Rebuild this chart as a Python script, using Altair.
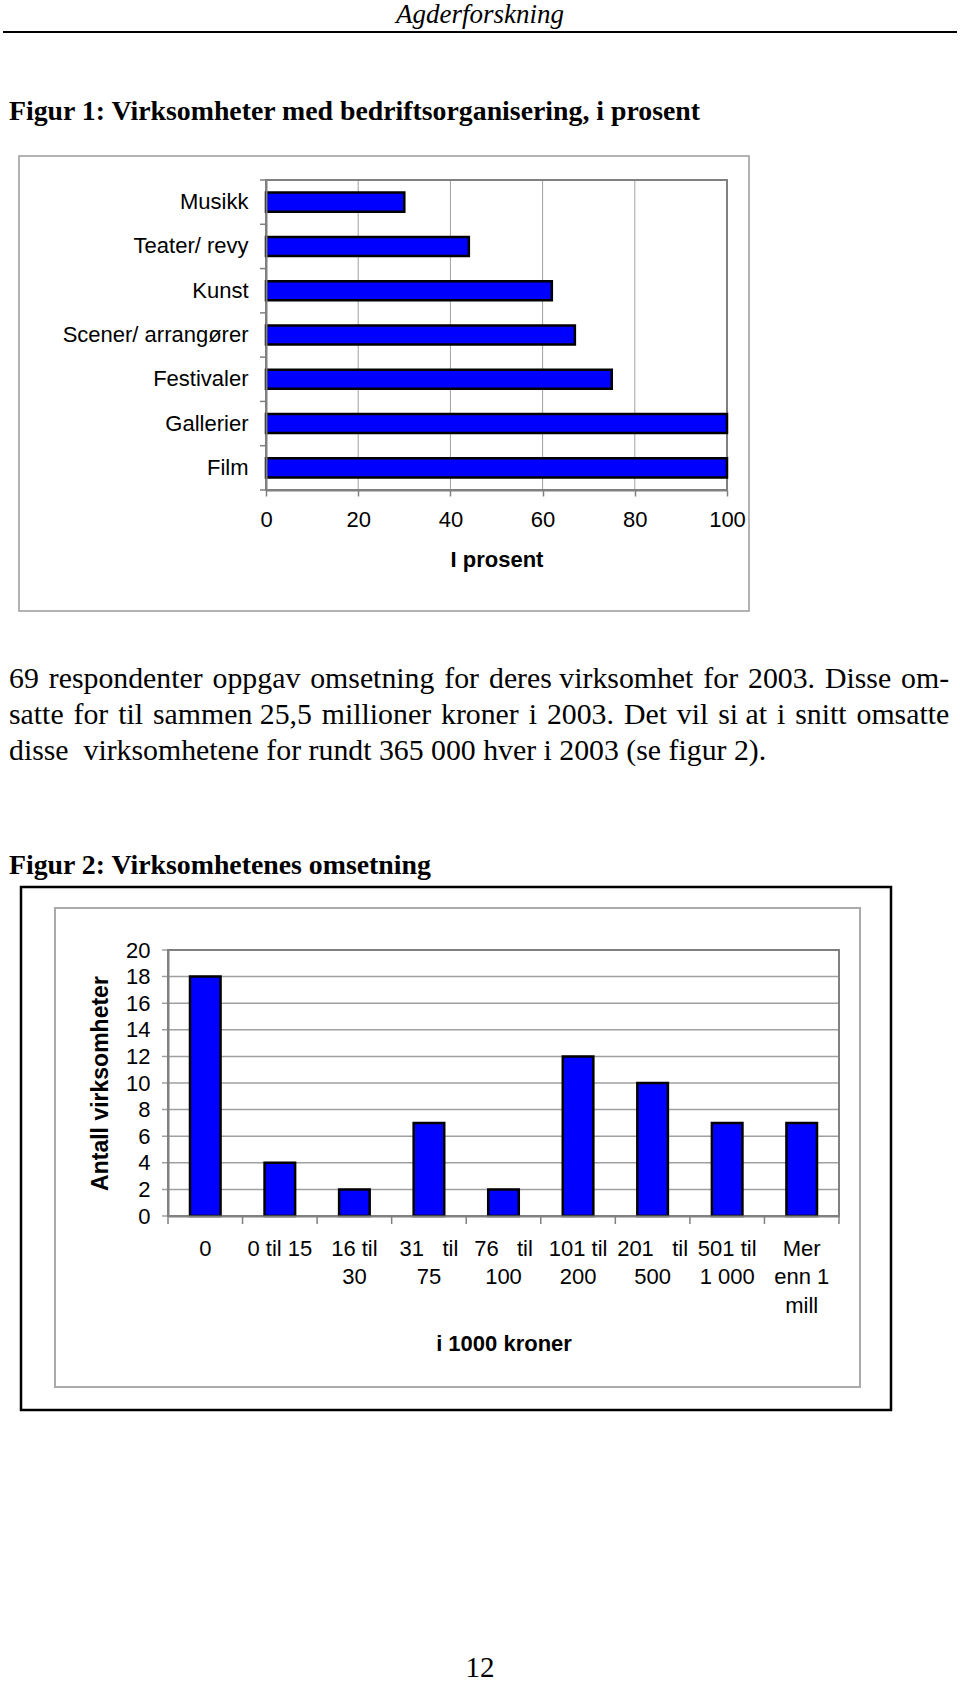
import altair as alt
import pandas as pd

W, H = 960, 1685

# ---------------- data ----------------
header_text = ["Agderforskning"]
page_number = ["12"]
fig1_title = ["Figur 1: Virksomheter med bedriftsorganisering, i prosent"]
fig2_title = ["Figur 2: Virksomhetenes omsetning"]
paragraph_lines = [
    "69 respondenter oppgav omsetning for deres virksomhet for 2003. Disse om-",
    "satte for til sammen 25,5 millioner kroner i 2003. Det vil si at i snitt omsatte",
    "disse\u00a0 virksomhetene for rundt 365 000 hver i 2003 (se figur 2).",
]
# lines 1-2 are justified in the original: number of hair spaces added to stretch them
paragraph_stretch = [9, 13, 0]

fig1_categories = ["Musikk", "Teater/ revy", "Kunst", "Scener/ arrangører",
                   "Festivaler", "Gallerier", "Film"]
fig1_values = [30, 44, 62, 67, 75, 100, 100]
fig1_ticks = [0, 20, 40, 60, 80, 100]
fig1_xtitle = "I prosent"

NB = "\u00a0"
fig2_categories = ["0", "0 til 15", "16 til\n30", f"31{NB}{NB} til\n75",
                   f"76{NB}{NB} til\n100", "101 til\n200", f"201{NB}{NB} til\n500",
                   "501 til\n1 000", "Mer\nenn 1\nmill"]
fig2_values = [18, 4, 2, 7, 2, 12, 10, 7, 7]
fig2_ticks = [0, 2, 4, 6, 8, 10, 12, 14, 16, 18, 20]
fig2_xtitle = "i 1000 kroner"
fig2_ytitle = "Antall virksomheter"

# ---------------- style / geometry ----------------
SANS = "Liberation Sans"
SERIF = "Liberation Serif"
GRAY = "#808080"
GRID = "#a0a0a0"
BLUE = "#0000FF"

P1 = dict(x0=266, x1=727, y0=180, y1=490)
P2 = dict(x0=168, x1=839, y0=950, y1=1216)

one = pd.DataFrame({"k": [0]})


def stretch(line, k):
    """Spread k hair spaces evenly over the word gaps (simulated justification)."""
    if k <= 0:
        return line
    words = line.split(" ")
    gaps = len(words) - 1
    chosen = {round(i * (gaps - 1) / max(k - 1, 1)) for i in range(k)}
    out = words[0]
    for g in range(gaps):
        out += " " + ("\u200a" if g in chosen else "") + words[g + 1]
    return out


def box(x0, x1, y0, y1, stroke, sw):
    return alt.Chart(one).mark_rect(fill="transparent", stroke=stroke, strokeWidth=sw).encode(
        x=alt.value(x0), x2=alt.value(x1), y=alt.value(y0), y2=alt.value(y1))


def text_layer(lines, x, y, font, size, weight="normal", style="normal", align="left"):
    return alt.Chart(pd.DataFrame({"t": lines})).mark_text(
        font=font, fontSize=size, fontWeight=weight, fontStyle=style,
        align=align, baseline="middle", color="black").encode(
        text="t:N", x=alt.value(x), y=alt.value(y))


# ---------------- page text ----------------
header = text_layer(header_text, 480, 15, SERIF, 27, style="italic", align="center")
header_rule = alt.Chart(one).mark_rule(color="black", strokeWidth=2).encode(
    x=alt.value(3), x2=alt.value(957), y=alt.value(32))
title1 = text_layer(fig1_title, 9, 112, SERIF, 27.8, weight="bold")
title2 = text_layer(fig2_title, 9, 866, SERIF, 27.8, weight="bold")
pnum = text_layer(page_number, 480, 1668, SERIF, 29, align="center")

para_df = pd.DataFrame({
    "t": [stretch(l, k) for l, k in zip(paragraph_lines, paragraph_stretch)],
    "i": list(range(len(paragraph_lines))),
})
paragraph = alt.Chart(para_df).mark_text(
    font=SERIF, fontSize=29.8, align="left", baseline="middle", color="black").encode(
    text="t:N", x=alt.value(9),
    y=alt.Y("i:Q", scale=alt.Scale(domain=[0, 2], range=[679, 751], nice=False, zero=False), axis=None))

# ---------------- figure 1 ----------------
x1s = alt.Scale(domain=[0, 100], range=[P1["x0"], P1["x1"]], nice=False, zero=True)
y1s = alt.Scale(domain=fig1_categories, range=[P1["y0"], P1["y1"]],
                paddingInner=0.57, paddingOuter=0.285)

box1 = box(19, 749, 156, 611, "#9a9a9a", 1.5)
grid1 = alt.Chart(pd.DataFrame({"v": fig1_ticks[1:-1]})).mark_rule(color=GRID, strokeWidth=1).encode(
    x=alt.X("v:Q", scale=x1s, axis=None), y=alt.value(P1["y0"]), y2=alt.value(P1["y1"]))
frame1 = box(P1["x0"], P1["x1"], P1["y0"], P1["y1"], GRAY, 2)

df1 = pd.DataFrame({"cat": fig1_categories, "val": fig1_values})
bars1 = alt.Chart(df1).mark_bar(color=BLUE, stroke="black", strokeWidth=2.5).encode(
    x=alt.X("val:Q", scale=x1s, axis=alt.Axis(
        orient="bottom", offset=P1["y1"] - H, values=fig1_ticks, grid=False,
        labelFont=SANS, labelFontSize=22, labelColor="black", labelPadding=13,
        labelFlush=False, labelOverlap=False,
        tickSize=6, tickColor=GRAY, tickWidth=1.5, domainColor=GRAY, domainWidth=2,
        title=fig1_xtitle, titleFont=SANS, titleFontSize=22, titleFontWeight="bold",
        titleColor="black", titlePadding=19, zindex=1)),
    y=alt.Y("cat:N", scale=y1s, sort=None, axis=alt.Axis(
        orient="left", offset=-P1["x0"], ticks=False, grid=False,
        labelFont=SANS, labelFontSize=22, labelColor="black", labelPadding=18,
        labelLimit=400, domainColor=GRAY, domainWidth=2, title=None, zindex=1)),
)
bticks1 = alt.Chart(pd.DataFrame({"b": list(range(len(fig1_categories) + 1))})).mark_rule(
    color=GRAY, strokeWidth=1.5).encode(
    y=alt.Y("b:Q", scale=alt.Scale(domain=[0, len(fig1_categories)], range=[P1["y0"], P1["y1"]],
                                   nice=False, zero=False), axis=None),
    x=alt.value(P1["x0"] - 6), x2=alt.value(P1["x0"]))

# ---------------- figure 2 ----------------
x2s = alt.Scale(domain=fig2_categories, range=[P2["x0"], P2["x1"]],
                paddingInner=0.59, paddingOuter=0.295)
y2s = alt.Scale(domain=[0, 20], range=[P2["y1"], P2["y0"]], nice=False, zero=True)

box2o = box(21, 891, 887, 1410, "black", 2.5)
box2i = box(55, 860, 908, 1387, "#aaaaaa", 2)
grid2 = alt.Chart(pd.DataFrame({"v": fig2_ticks})).mark_rule(color=GRID, strokeWidth=1.5).encode(
    y=alt.Y("v:Q", scale=y2s, axis=None), x=alt.value(P2["x0"] - 6), x2=alt.value(P2["x1"]))
frame2 = box(P2["x0"], P2["x1"], P2["y0"], P2["y1"], GRAY, 2)

df2 = pd.DataFrame({"cat": fig2_categories, "val": fig2_values})
bars2 = alt.Chart(df2).mark_bar(color=BLUE, stroke="black", strokeWidth=2.5).encode(
    x=alt.X("cat:N", scale=x2s, sort=None, axis=alt.Axis(
        orient="bottom", offset=P2["y1"] - H, ticks=False, grid=False,
        labelFont=SANS, labelFontSize=22, labelColor="black", labelPadding=22,
        labelAngle=0, labelLimit=200, labelExpr="split(datum.label, '\\n')",
        labelLineHeight=28.5, labelOverlap=False,
        domainColor=GRAY, domainWidth=2,
        title=fig2_xtitle, titleFont=SANS, titleFontSize=22, titleFontWeight="bold",
        titleColor="black", titlePadding=17, zindex=1)),
    y=alt.Y("val:Q", scale=y2s, axis=alt.Axis(
        orient="left", offset=-P2["x0"], values=fig2_ticks, ticks=False, grid=False,
        labelFont=SANS, labelFontSize=22, labelColor="black", labelPadding=18,
        domainColor=GRAY, domainWidth=2,
        title=fig2_ytitle, titleFont=SANS, titleFontSize=23, titleFontWeight="bold",
        titleColor="black", titlePadding=13, zindex=1)),
)
bticks2 = alt.Chart(pd.DataFrame({"b": list(range(len(fig2_categories) + 1))})).mark_rule(
    color=GRAY, strokeWidth=1.5).encode(
    x=alt.X("b:Q", scale=alt.Scale(domain=[0, len(fig2_categories)], range=[P2["x0"], P2["x1"]],
                                   nice=False, zero=False), axis=None),
    y=alt.value(P2["y1"]), y2=alt.value(P2["y1"] + 8))

chart = alt.layer(
    header, header_rule, title1, paragraph, title2, pnum,
    box1, grid1, frame1, bars1, bticks1,
    box2o, box2i, grid2, frame2, bars2, bticks2,
).resolve_scale(x="independent", y="independent").properties(
    width=W, height=H, autosize=alt.AutoSizeParams(type="none"), padding=0,
    background="white",
).configure_view(strokeWidth=0)

chart.save("out.html", embed_options={"renderer": "svg", "actions": False})
